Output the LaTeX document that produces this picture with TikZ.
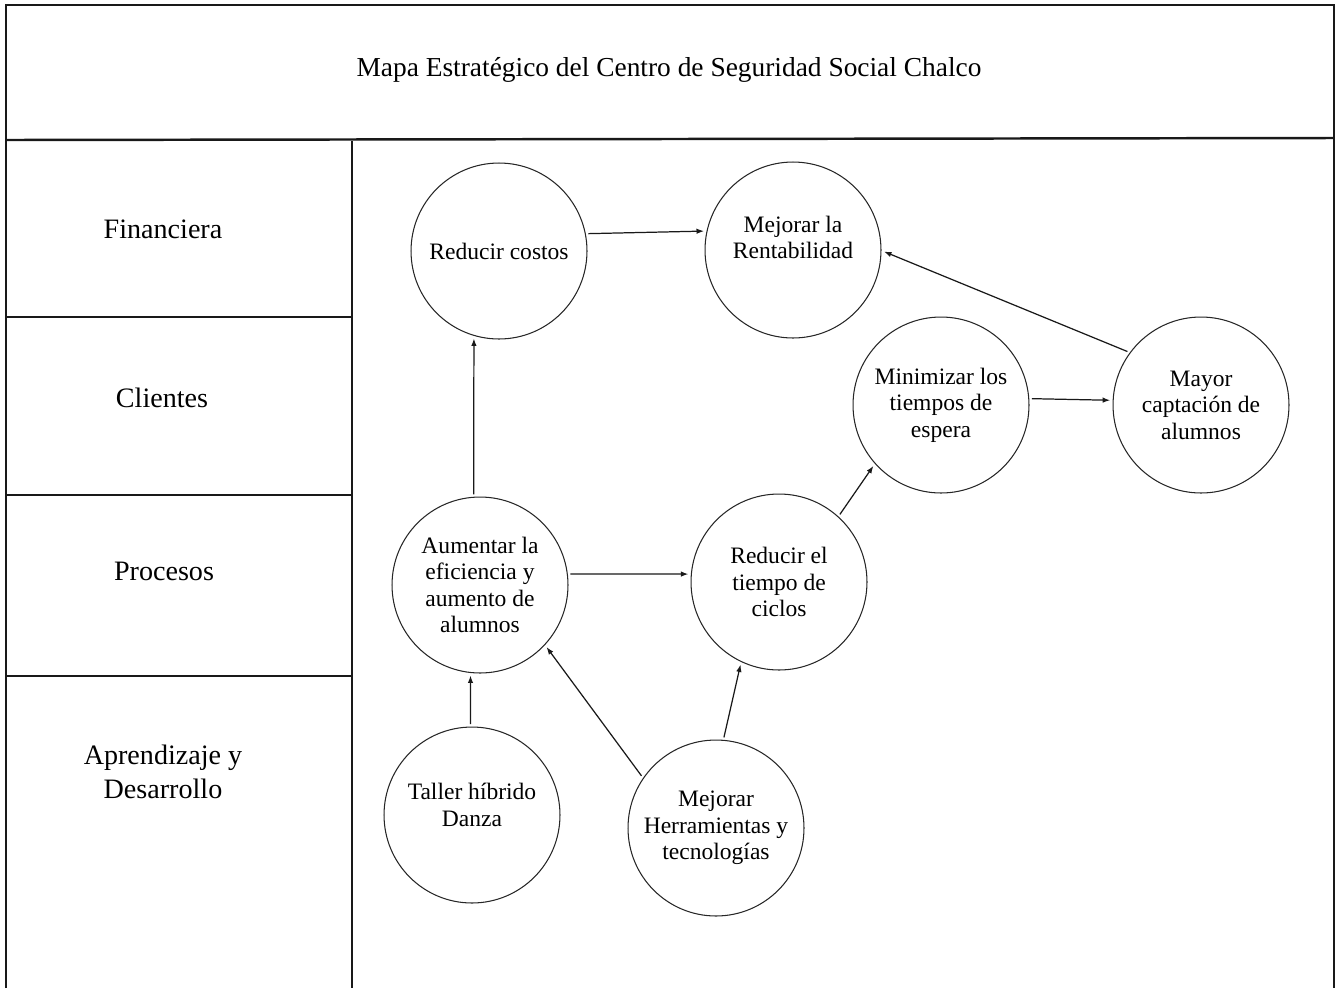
\documentclass[tikz,border=0pt]{standalone}
\usepackage{fontspec}
\setmainfont{Liberation Serif}
\usetikzlibrary{arrows.meta}
\tikzset{every node/.style={font=\fontsize{13.4}{15.1}\selectfont},
 meta/.style={circle,draw=black!85,line width=.6pt,minimum size=3.52cm,inner sep=0pt,outer sep=.06cm,align=center},
 perspectiva/.style={font=\fontsize{16}{19.3}\selectfont,align=center},
 marco/.style={draw=black!90,line width=1.4pt},
 flecha/.style={-{Latex[length=1.5mm,width=1.1mm]},draw=black!90,line width=.7pt}}

\begin{document}
\begin{tikzpicture}[x=.02cm,y=-.02cm]

\path[use as bounding box] (0,0) rectangle (1338,988);
% marco y divisiones
\draw[marco] (6,988) -- (6,5) -- (1334,5) -- (1334,988);
\draw[marco] (6,140) -- (1334,138);
\draw[marco] (352,141) -- (352,988);
\draw[marco] (6,317) -- (352,317);
\draw[marco] (6,495) -- (352,495);
\draw[marco] (6,676) -- (352,676);

\node[font=\fontsize{15.6}{18}\selectfont] (titulo) at (669,70)
 {Mapa Estratégico del Centro de Seguridad Social Chalco};

% perspectivas
\node[perspectiva] (fin) at (163,229) {Financiera};
\node[perspectiva] (cli) at (162,398) {Clientes};
\node[perspectiva] (pro) at (164,571) {Procesos};
\node[perspectiva] (apr) at (163,772) {Aprendizaje y\\Desarrollo};

% objetivos
\node[meta] (rc) at (499,251) {Reducir costos};
\node[meta,text depth=.5cm] (mr) at (793,250) {Mejorar la\\Rentabilidad};
\node[meta] (mt) at (941,405) {Minimizar los\\tiempos de\\espera};
\node[meta] (mc) at (1201,405) {Mayor\\captación de\\alumnos};
\node[meta] (ae) at (480,585) {Aumentar la\\eficiencia y\\aumento de\\alumnos};
\node[meta] (rt) at (779,582) {Reducir el\\tiempo de\\ciclos};
\node[meta,text depth=.4cm] (th) at (472,815) {Taller híbrido\\Danza};
\node[meta] (mh) at (716,828) {Mejorar\\Herramientas y\\tecnologías};

% relaciones
\draw[flecha] (rc.11) -- (mr.168);
\draw[flecha] (mc.144) -- (mr.-1);
\draw[flecha] (mt.4) -- (mc.177);
\draw[flecha] (rt.48) -- (mt.222);
\draw[flecha] (ae.94) -- (rc.254);
\draw[flecha] (ae.7) -- (rt.175);
\draw[flecha] (th.91) -- (ae.264);
\draw[flecha] (mh.145) -- (ae.317);
\draw[flecha] (mh.85) -- (rt.245);

\end{tikzpicture}
\end{document}
